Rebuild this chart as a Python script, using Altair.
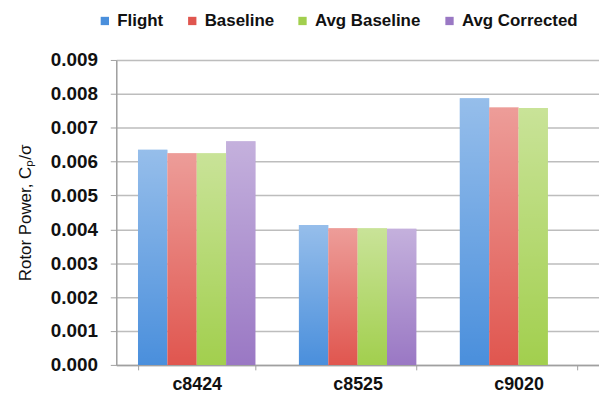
import altair as alt
import pandas as pd

categories = ["c8424", "c8525", "c9020"]
series = ["Flight", "Baseline", "Avg Baseline", "Avg Corrected"]
flight = [0.00635, 0.00413, 0.00787]
baseline = [0.00625, 0.00403, 0.00760]
avg_baseline = [0.00625, 0.00403, 0.00758]
avg_corrected = [0.00660, 0.00402, None]
colors = ["#4a8fdc", "#e0564f", "#a2cf4e", "#9a78c4"]
y_ticks = [0.000, 0.001, 0.002, 0.003, 0.004, 0.005, 0.006, 0.007, 0.008, 0.009]

rows = []
for name, vals in zip(series, [flight, baseline, avg_baseline, avg_corrected]):
    for c, v in zip(categories, vals):
        if v is not None:
            rows.append({"case": c, "series": name, "value": v})
df = pd.DataFrame(rows)

FONT = "Liberation Sans"

x_enc = alt.X(
    "case:N",
    sort=categories,
    scale=alt.Scale(paddingInner=0.27, paddingOuter=0.135),
    axis=alt.Axis(
        title=None,
        labelAngle=0,
        labelFontSize=18,
        labelFontWeight="bold",
        labelFont=FONT,
        labelColor="#111111",
        labelPadding=6,
        tickBand="extent",
        tickSize=5,
        tickColor="#a0a0a0",
        domainColor="#a0a0a0",
        domainWidth=1.5,
        grid=False,
    ),
)
xo_enc = alt.XOffset("series:N", sort=series, scale=alt.Scale(domain=series, paddingInner=0, paddingOuter=0))
y_enc = alt.Y(
    "value:Q",
    scale=alt.Scale(domain=[0, 0.009], nice=False),
    axis=alt.Axis(
        title="Rotor Power, Cₚ/σ",
        titleFontSize=17,
        titleFontWeight="normal",
        titleFont=FONT,
        titleColor="#111111",
        titlePadding=16,
        values=y_ticks,
        format=".3f",
        labelFontSize=19,
        labelFontWeight="bold",
        labelFont=FONT,
        labelColor="#111111",
        labelPadding=13,
        tickSize=6,
        tickColor="#a0a0a0",
        domainColor="#a0a0a0",
        domainWidth=1.5,
        gridColor="#bdbdbd",
        gridWidth=1.5,
    ),
)

base = alt.Chart(df).mark_bar().encode(
    x=x_enc,
    xOffset=xo_enc,
    y=y_enc,
    color=alt.Color(
        "series:N",
        sort=series,
        scale=alt.Scale(domain=series, range=colors),
        legend=alt.Legend(
            title=None,
            orient="none",
            direction="horizontal",
            legendX=-20,
            legendY=-48,
            symbolType="square",
            symbolSize=70,
            symbolStrokeWidth=0,
            labelFontSize=17,
            labelFontWeight="bold",
            labelFont=FONT,
            labelColor="#111111",
            columnPadding=20,
            labelOffset=4,
        ),
    ),
)

shine = alt.Chart(df).mark_bar(
    color=alt.Gradient(
        gradient="linear",
        x1=0, x2=0, y1=0, y2=1,
        stops=[
            alt.GradientStop(color="rgba(255,255,255,0.42)", offset=0),
            alt.GradientStop(color="rgba(255,255,255,0.0)", offset=1),
        ],
    )
).encode(x=x_enc, xOffset=xo_enc, y=y_enc)

chart = (
    alt.layer(base, shine)
    .properties(width=486, height=307, padding={"left": 8, "top": 3, "right": 0, "bottom": 0})
    .configure_view(stroke=None)
    .configure(background="white")
)

chart.save("out.html", embed_options={"renderer": "svg", "actions": False})
